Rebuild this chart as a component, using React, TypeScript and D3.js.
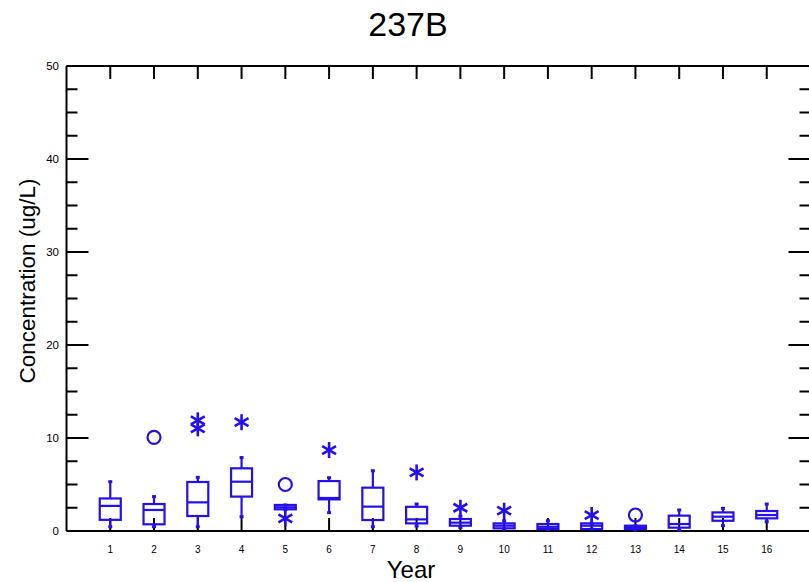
import React from "react";
import * as d3 from "d3";

const years = [1, 2, 3, 4, 5, 6, 7, 8, 9, 10, 11, 12, 13, 14, 15, 16];
const whiskerLow = [0.46, 0.46, 0.46, 1.54, 2.3, 1.97, 0.46, 0.53, 0.38, 0.2, 0.15, 0.21, 0.1, 0.1, 0.57, 1.0];
const q1 = [1.2, 0.72, 1.61, 3.7, 2.33, 3.4, 1.18, 0.82, 0.57, 0.29, 0.21, 0.21, 0.21, 0.36, 1.1, 1.36];
const medians = [2.7, 2.26, 3.08, 5.3, 2.55, 3.55, 2.62, 1.25, 0.9, 0.57, 0.45, 0.57, 0.4, 0.75, 1.54, 1.72];
const q3 = [3.5, 2.9, 5.27, 6.74, 2.8, 5.37, 4.66, 2.6, 1.29, 0.82, 0.75, 0.82, 0.57, 1.65, 2.0, 2.15];
const whiskerHigh = [5.3, 3.7, 5.77, 7.9, 2.8, 5.73, 6.48, 2.9, 1.6, 1.1, 1.1, 0.82, 0.57, 2.26, 2.44, 2.9];
const farOutliers = [
  { year: 3, value: 11.9 },
  { year: 3, value: 11.04 },
  { year: 4, value: 11.7 },
  { year: 5, value: 1.36 },
  { year: 6, value: 8.7 },
  { year: 8, value: 6.3 },
  { year: 9, value: 2.5 },
  { year: 10, value: 2.18 },
  { year: 12, value: 1.72 },
];
const nearOutliers = [
  { year: 2, value: 10.07 },
  { year: 5, value: 5.0 },
  { year: 13, value: 1.72 },
];
const yMajorTicks = [0, 10, 20, 30, 40, 50];
const yMinorTicks = [2.5, 5, 7.5, 12.5, 15, 17.5, 22.5, 25, 27.5, 32.5, 35, 37.5, 42.5, 45, 47.5];

const BLUE = "#2410ee";

export default function App() {
  const width = 809;
  const height = 582;
  const x = d3.scaleLinear().domain([0, 17]).range([66.5, 810.5]);
  const y = d3.scaleLinear().domain([0, 50]).range([531, 66]);
  const boxW = 21;
  const plotLeft = x(0);
  const plotRight = x(17);

  const asterisk = (cx: number, cy: number, key: string) => {
    const r = 8;
    const a = Math.PI / 6;
    return (
      <g key={key} stroke={BLUE} strokeWidth={2.6} fill="none">
        <line x1={cx} y1={cy - r} x2={cx} y2={cy + r} />
        <line x1={cx - r * Math.cos(a)} y1={cy - r * Math.sin(a)} x2={cx + r * Math.cos(a)} y2={cy + r * Math.sin(a)} />
        <line x1={cx - r * Math.cos(a)} y1={cy + r * Math.sin(a)} x2={cx + r * Math.cos(a)} y2={cy - r * Math.sin(a)} />
      </g>
    );
  };

  return (
    <svg width={width} height={height} style={{ position: "absolute", left: 0, top: 0 }} fontFamily="Arial, 'Liberation Sans', sans-serif">
      <rect x={0} y={0} width={width} height={height} fill="white" />
      <text x={408} y={36} fontSize={34} textAnchor="middle" fill="#000">237B</text>
      <text x={411} y={578} fontSize={24} textAnchor="middle" fill="#000">Year</text>
      <text transform={`translate(35,281) rotate(-90)`} fontSize={22.5} textAnchor="middle" fill="#000">Concentration (ug/L)</text>

      {/* frame */}
      <g stroke="#000" strokeWidth={2} fill="none">
        <line x1={plotLeft} y1={y(0)} x2={plotRight} y2={y(0)} />
        <line x1={plotLeft} y1={y(50)} x2={plotRight} y2={y(50)} />
        <line x1={plotLeft} y1={y(0)} x2={plotLeft} y2={y(50)} />
        <line x1={plotRight} y1={y(0)} x2={plotRight} y2={y(50)} />
      </g>

      {/* y ticks */}
      <g stroke="#000" strokeWidth={2}>
        {yMajorTicks.map((t) => (
          <g key={"M" + t}>
            <line x1={plotLeft} x2={plotLeft + 22} y1={y(t)} y2={y(t)} />
            <line x1={plotRight} x2={plotRight - 22} y1={y(t)} y2={y(t)} />
          </g>
        ))}
        {yMinorTicks.map((t) => (
          <g key={"m" + t}>
            <line x1={plotLeft} x2={plotLeft + 11} y1={y(t)} y2={y(t)} />
            <line x1={plotRight} x2={plotRight - 11} y1={y(t)} y2={y(t)} />
          </g>
        ))}
        {years.map((yr) => (
          <g key={"xt" + yr}>
            <line x1={x(yr)} x2={x(yr)} y1={y(0)} y2={y(0) - 13} />
            <line x1={x(yr)} x2={x(yr)} y1={y(50)} y2={y(50) + 13} />
          </g>
        ))}
      </g>
      {yMajorTicks.map((t) => (
        <text key={"yl" + t} x={59} y={y(t) + 4} fontSize={11.5} textAnchor="end" fill="#000">{t}</text>
      ))}
      {years.map((yr) => (
        <text key={"xl" + yr} x={x(yr)} y={553} fontSize={10} textAnchor="middle" fill="#000">{yr}</text>
      ))}

      {/* boxes */}
      {years.map((yr, i) => {
        const cx = x(yr);
        return (
          <g key={"b" + yr} stroke={BLUE} strokeWidth={2.2} fill="none">
            <line x1={cx} x2={cx} y1={y(q3[i])} y2={y(whiskerHigh[i])} />
            <line x1={cx} x2={cx} y1={y(q1[i])} y2={y(whiskerLow[i])} />
            <line x1={cx - 2} x2={cx + 2} y1={y(whiskerHigh[i])} y2={y(whiskerHigh[i])} strokeWidth={3} />
            <line x1={cx - 2} x2={cx + 2} y1={y(whiskerLow[i])} y2={y(whiskerLow[i])} strokeWidth={3} />
            <rect x={cx - boxW / 2} y={y(q3[i])} width={boxW} height={Math.max(0.5, y(q1[i]) - y(q3[i]))} fill="none" />
            <line x1={cx - boxW / 2} x2={cx + boxW / 2} y1={y(medians[i])} y2={y(medians[i])} />
          </g>
        );
      })}
      {farOutliers.map((o, i) => asterisk(x(o.year), y(o.value), "a" + i))}
      {nearOutliers.map((o, i) => (
        <circle key={"c" + i} cx={x(o.year)} cy={y(o.value)} r={6.5} stroke={BLUE} strokeWidth={2.2} fill="none" />
      ))}
    </svg>
  );
}
